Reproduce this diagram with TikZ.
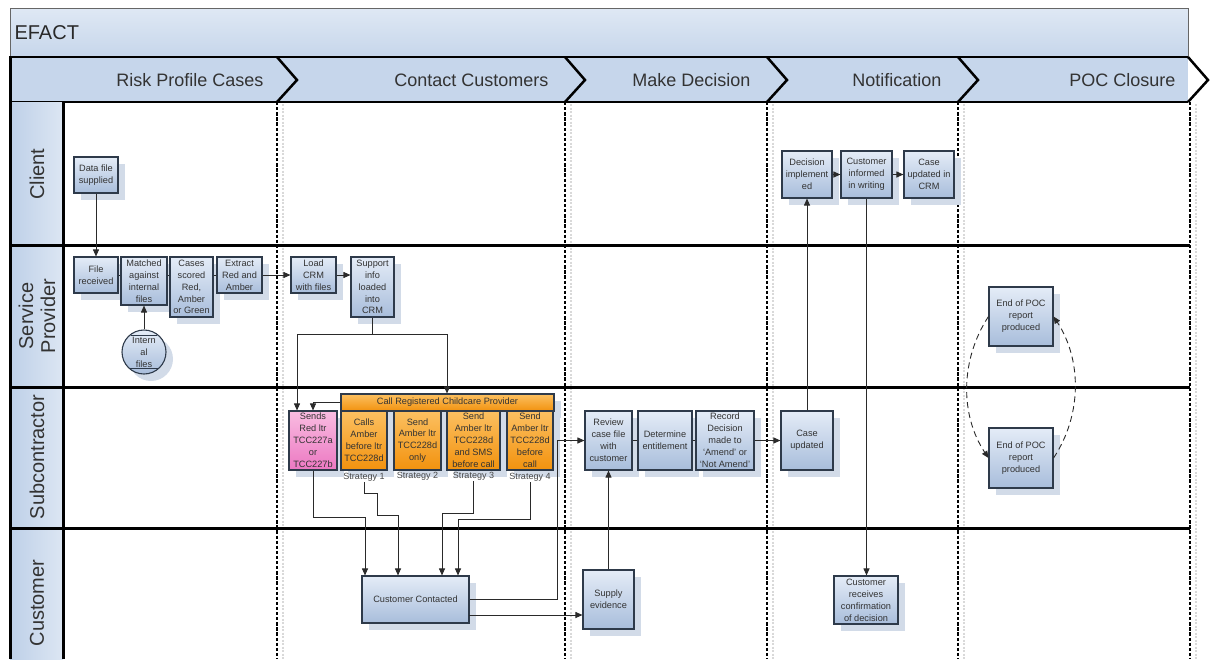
\documentclass[tikz,border=0pt]{standalone}
\usepackage{fontspec}
\setmainfont{Liberation Sans}
\usetikzlibrary{arrows.meta,shadows,calc}

\definecolor{boxtop}{HTML}{E4ECF7}
\definecolor{boxbot}{HTML}{A8BDDB}
\definecolor{boxline}{HTML}{2E3A4A}
\definecolor{shadowc}{HTML}{D2DBE8}
\definecolor{bandfill}{HTML}{C6D6EB}
\definecolor{bandtop}{HTML}{DFE8F4}
\definecolor{colleft}{HTML}{BED0E8}
\definecolor{colright}{HTML}{DCE6F3}
\definecolor{txt}{HTML}{333333}
\definecolor{orangetop}{HTML}{FCC061}
\definecolor{orangebot}{HTML}{F2920E}
\definecolor{pinktop}{HTML}{F9BCE1}
\definecolor{pinkbot}{HTML}{EC78C2}
\definecolor{wire}{HTML}{2A2A2A}

\tikzset{
  box/.style={draw=boxline, line width=1.1pt, top color=boxtop, bottom color=boxbot,
    align=center, inner sep=0.5pt, text=txt, font=\fontsize{9.2}{11.9}\selectfont,
    drop shadow={shadow xshift=7pt, shadow yshift=-7pt, fill=shadowc, opacity=1}},
  obox/.style={box, top color=orangetop, bottom color=orangebot},
  pbox/.style={box, top color=pinktop, bottom color=pinkbot},
  stlabel/.style={text=txt!90, inner sep=1pt, font=\fontsize{9}{10}\selectfont},
  lanelabel/.style={rotate=90, text=txt, align=center, font=\fontsize{20}{22}\selectfont},
  phaselabel/.style={anchor=east, text=txt, font=\fontsize{18}{20}\selectfont},
  conn/.style={draw=wire, line width=0.9pt},
  arr/.style={conn, -{Triangle[length=7pt,width=6pt]}},
  phaseline/.style={line width=2.6pt, dash pattern=on 3.3pt off 1.8pt},
  phaseshadow/.style={line width=1.2pt, draw=black!15, dash pattern=on 2pt off 1.5pt},
  laneline/.style={line width=3pt},
  chevron/.style={line width=2.5pt, line join=miter}
}

\begin{document}
\begin{tikzpicture}[x=1pt,y=-1pt]
\useasboundingbox (0,0) rectangle (1217,659);

% ---- pool header ----
\fill[top color=bandtop, bottom color=bandfill] (10,8) rectangle (1188,57);
\draw[line width=0.8pt, draw=black!60] (10,8) rectangle (1188,57);
\node[anchor=west, text=txt!80!black, font=\fontsize{20}{22}\selectfont] (pool) at (11,33) {EFACT};

% ---- phase band ----
\fill[bandfill] (10,57) rectangle (1188,102);
\draw[line width=2.5pt] (10,57) -- (1188,57);
\draw[line width=2.5pt] (10,102) -- (1188,102);
\foreach \b in {277,565,767,958,1188}
  \draw[chevron] (\b,57) -- (\b+20,80) -- (\b,102);
\node[phaselabel] (ph1) at (267,80) {Risk Profile Cases};
\node[phaselabel] (ph2) at (552,80) {Contact Customers};
\node[phaselabel] (ph3) at (754,80) {Make Decision};
\node[phaselabel] (ph4) at (945,80) {Notification};
\node[phaselabel] (ph5) at (1179,80) {POC Closure};

% ---- lane header column ----
\fill[left color=colleft, right color=colright] (10,102) rectangle (63,659);
\node[lanelabel] (l1) at (37,174) {Client};
\node[lanelabel] (l2) at (37,316) {Service\\Provider};
\node[lanelabel] (l3) at (37,457) {Subcontractor};
\node[lanelabel] (l4) at (37,603) {Customer};

% ---- phase separators ----
\foreach \b in {277,565,767,958,1190}{
  \draw[phaseshadow] (\b+6,104) -- (\b+6,659);
  \draw[phaseline] (\b,102) -- (\b,659);
}

% ---- lane separators ----
\foreach \y in {245,387,528}
  \draw[laneline] (10,\y) -- (1190,\y);
\draw[laneline] (10,56) -- (10,659);
\draw[laneline] (63,102) -- (63,659);

% ---- Client lane ----
\node[box, minimum width=44pt, minimum height=36pt] (data) at (96,175) {Data file\\supplied};
\node[box, minimum width=50pt, minimum height=47pt] (decision) at (807,174.5) {Decision\\implement\\ed};
\node[box, minimum width=51pt, minimum height=47pt] (informed) at (866.5,174.5) {Customer\\informed\\in writing};
\node[box, minimum width=50pt, minimum height=47pt] (crm) at (929,174.5) {Case\\updated in\\CRM};

% ---- Service Provider lane ----
\node[box, minimum width=44pt, minimum height=36pt] (filerec) at (96,275) {File\\received};
\node[box, minimum width=46pt, minimum height=48pt] (matched) at (144,281) {Matched\\against\\internal\\files};
\node[box, minimum width=43pt, minimum height=60pt] (scored) at (191.5,287) {Cases\\scored\\Red,\\Amber\\or Green};
\node[box, minimum width=45pt, minimum height=36pt] (extract) at (239.5,275) {Extract\\Red and\\Amber};
\node[box, circle, minimum size=44pt, inner sep=0pt] (internal) at (144,352) {Intern\\al\\files};
\draw[draw=boxline, line width=0.9pt] ($(internal.center)+(-13,-17)$) -- ($(internal.center)+(13,-17)$);
\draw[draw=boxline, line width=0.9pt] ($(internal.center)+(-14,16)$) -- ($(internal.center)+(14,16)$);
\node[box, minimum width=45pt, minimum height=36pt] (load) at (313.5,275) {Load\\CRM\\with files};
\node[box, minimum width=43pt, minimum height=60pt] (support) at (372.5,287) {Support\\info\\loaded\\into\\CRM};
\node[box, minimum width=64pt, minimum height=59pt] (poc1) at (1021,316.5) {End of POC\\report\\produced};

% ---- Subcontractor lane ----
\node[obox, minimum width=213pt, minimum height=17pt] (header) at (447.5,402.5) {Call Registered Childcare Provider};
\node[pbox, minimum width=48pt, minimum height=59pt] (sendsred) at (313,440.5) {Sends\\Red ltr\\TCC227a\\or\\TCC227b};
\node[obox, minimum width=46pt, minimum height=59pt] (s1) at (364,440.5) {Calls\\Amber\\before ltr\\TCC228d};
\node[obox, minimum width=47pt, minimum height=59pt] (s2) at (417.5,440.5) {Send\\Amber ltr\\TCC228d\\only};
\node[obox, minimum width=53pt, minimum height=59pt] (s3) at (473.5,440.5) {Send\\Amber ltr\\TCC228d\\and SMS\\before call};
\node[obox, minimum width=46pt, minimum height=59pt] (s4) at (530,440.5) {Send\\Amber ltr\\TCC228d\\before\\call};
\node[stlabel] (st1) at (364,477) {Strategy 1};
\node[stlabel] (st2) at (417.5,476) {Strategy 2};
\node[stlabel] (st3) at (473.5,476) {Strategy 3};
\node[stlabel] (st4) at (530,477) {Strategy 4};
\node[box, minimum width=47pt, minimum height=59pt] (review) at (608.5,440.5) {Review\\case file\\with\\customer};
\node[box, minimum width=54pt, minimum height=59pt] (determine) at (665,440.5) {Determine\\entitlement};
\node[box, minimum width=58pt, minimum height=59pt] (record) at (725,440.5) {Record\\Decision\\made to\\`Amend' or\\`Not Amend'};
\node[box, minimum width=52pt, minimum height=59pt] (caseupd) at (807,440.5) {Case\\updated};
\node[box, minimum width=64pt, minimum height=60pt] (poc2) at (1021,458) {End of POC\\report\\produced};

% ---- Customer lane ----
\node[box, minimum width=107pt, minimum height=47pt] (custcont) at (415.5,599.5) {Customer Contacted};
\node[box, minimum width=51pt, minimum height=59pt] (supply) at (608.5,599.5) {Supply\\evidence};
\node[box, minimum width=64pt, minimum height=48pt] (receives) at (866,600) {Customer\\receives\\confirmation\\of decision};

% ---- connectors: risk profiling ----
\draw[arr] (data.south) -- (filerec.north);
\draw[conn] (filerec.east) -- (filerec.east -| matched.west);
\draw[conn] (filerec.east -| matched.east) -- (filerec.east -| scored.west);
\draw[conn] (filerec.east -| scored.east) -- (extract.west);
\draw[arr] (internal.north) -- (matched.south);
\draw[arr] (extract.east) -- (load.west);
\draw[arr] (load.east) -- (load.east -| support.west);

% ---- connectors: contacting customers ----
\coordinate (fork) at (372.5,334);
\coordinate (forkl) at (297,334);
\coordinate (forkr) at (447,334);
\draw[conn] (support.south) -- (fork);
\draw[conn] (forkl) -- (forkr);
\draw[arr] (forkl) -- (forkl |- sendsred.north);
\draw[arr] (forkr) -- (forkr |- header.north);
\draw[arr] (header.west) -| (sendsred.north);

\coordinate (j1) at (365,517);
\draw[arr] (sendsred.south) |- (j1) -- (j1 |- custcont.north);
\coordinate (j2a) at (377,493);
\coordinate (j2b) at (398,515);
\draw[arr] (st1.south) |- (j2a) |- (j2b) -- (j2b |- custcont.north);
\coordinate (j3) at (442,513);
\draw[arr] (st3.south) |- (j3) -- (j3 |- custcont.north);
\coordinate (j4) at (458,519);
\draw[arr] (st4.south) |- (j4) -- (j4 |- custcont.north);

\coordinate (j5) at (557,600);
\draw[arr] (custcont.east) -- (custcont.east -| j5) |- (review.west);
\coordinate (j6) at (469,615);
\draw[arr] (j6) -- (j6 -| supply.west);

% ---- connectors: decision and notification ----
\draw[arr] (supply.north) -- (review.south);
\draw[conn] (review.east) -- (determine.west);
\draw[conn] (determine.east) -- (record.west);
\draw[arr] (record.east) -- (caseupd.west);
\draw[arr] (caseupd.north) -- (decision.south);
\draw[arr] (decision.east) -- (informed.west);
\draw[arr] (informed.east) -- (crm.west);
\draw[arr] (informed.south) -- (informed.south |- receives.north);

% ---- POC closure loop ----
\draw[arr, dash pattern=on 6pt off 4pt] (poc1.west) .. controls (960,360) and (960,415) .. (poc2.west);
\draw[arr, dash pattern=on 6pt off 4pt] (poc2.east) .. controls (1082,415) and (1082,360) .. (poc1.east);

\end{tikzpicture}
\end{document}
